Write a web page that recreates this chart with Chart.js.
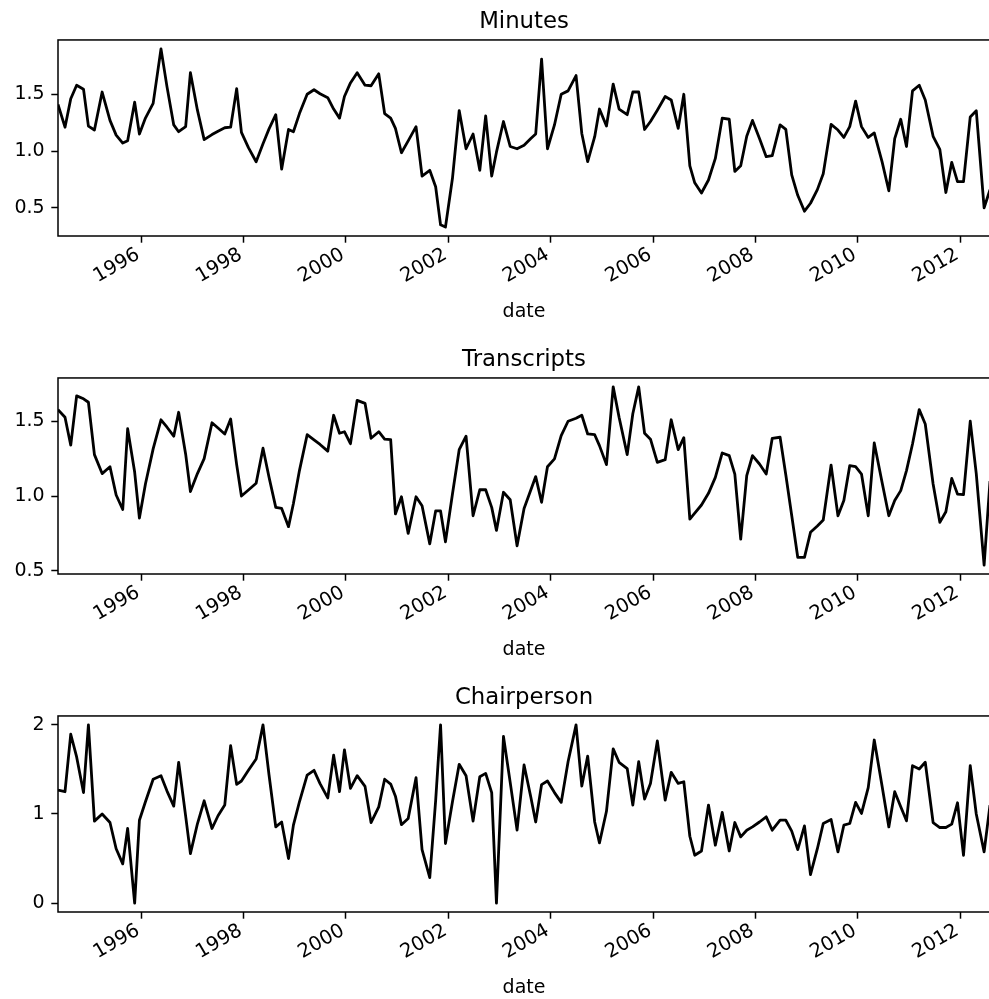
<!DOCTYPE html>
<html>
<head>
<meta charset="utf-8">
<script src="https://cdn.jsdelivr.net/npm/chart.js@4.4.1/dist/chart.umd.min.js"></script>
<style>
  html, body { margin: 0; padding: 0; overflow: hidden; background: #fff; }
  canvas { position: absolute; left: 0; }
</style>
</head>
<body>
<canvas id="minutes" width="1000" height="323" style="top:0px"></canvas>
<canvas id="transcripts" width="1000" height="323" style="top:338px"></canvas>
<canvas id="chair" width="1000" height="323" style="top:676px"></canvas>
<script>
// FOMC meeting dates
const dates = [
  "1994-05-17", "1994-07-06", "1994-08-16", "1994-09-27", "1994-11-15", "1994-12-20",
  "1995-02-01", "1995-03-28", "1995-05-23", "1995-07-06", "1995-08-22", "1995-09-26", "1995-11-15", "1995-12-19",
  "1996-01-31", "1996-03-26", "1996-05-21", "1996-07-03", "1996-08-20", "1996-09-24", "1996-11-13", "1996-12-17",
  "1997-02-05", "1997-03-25", "1997-05-20", "1997-07-02", "1997-08-19", "1997-09-30", "1997-11-12", "1997-12-16",
  "1998-02-04", "1998-03-31", "1998-05-19", "1998-07-01", "1998-08-18", "1998-09-29", "1998-11-17", "1998-12-22",
  "1999-02-03", "1999-03-30", "1999-05-18", "1999-06-30", "1999-08-24", "1999-10-05", "1999-11-16", "1999-12-21",
  "2000-02-02", "2000-03-21", "2000-05-16", "2000-06-28", "2000-08-22", "2000-10-03", "2000-11-15", "2000-12-19",
  "2001-01-31", "2001-03-20", "2001-05-15", "2001-06-27", "2001-08-21", "2001-10-02", "2001-11-06", "2001-12-11",
  "2002-01-30", "2002-03-19", "2002-05-07", "2002-06-26", "2002-08-13", "2002-09-24", "2002-11-06", "2002-12-10",
  "2003-01-29", "2003-03-18", "2003-05-06", "2003-06-25", "2003-08-12", "2003-09-16", "2003-10-28", "2003-12-09",
  "2004-01-28", "2004-03-16", "2004-05-04", "2004-06-30", "2004-08-10", "2004-09-21", "2004-11-10", "2004-12-14",
  "2005-02-02", "2005-03-22", "2005-05-03", "2005-06-30", "2005-08-09", "2005-09-20", "2005-11-01", "2005-12-13",
  "2006-01-31", "2006-03-28", "2006-05-10", "2006-06-29", "2006-08-08", "2006-09-20", "2006-10-25", "2006-12-12",
  "2007-01-31", "2007-03-21", "2007-05-09", "2007-06-28", "2007-08-07", "2007-09-18", "2007-10-31", "2007-12-11",
  "2008-01-30", "2008-03-18", "2008-04-30", "2008-06-25", "2008-08-05", "2008-09-16", "2008-10-29", "2008-12-16",
  "2009-01-28", "2009-03-18", "2009-04-29", "2009-06-24", "2009-08-12", "2009-09-23", "2009-11-04", "2009-12-16",
  "2010-01-27", "2010-03-16", "2010-04-28", "2010-06-23", "2010-08-10", "2010-09-21", "2010-11-03", "2010-12-14",
  "2011-01-26", "2011-03-15", "2011-04-27", "2011-06-22", "2011-08-09", "2011-09-21", "2011-11-02", "2011-12-13",
  "2012-01-25", "2012-03-13", "2012-04-25", "2012-06-20", "2012-08-01"
]

const minutes = [
  1.41, 1.21, 1.46, 1.58, 1.545, 1.22,
  1.185, 1.52, 1.27, 1.14, 1.07, 1.09, 1.43, 1.15,
  1.29, 1.42, 1.90, 1.565, 1.23, 1.17, 1.215, 1.69,
  1.36, 1.10, 1.145, 1.175, 1.205, 1.21, 1.55, 1.165,
  1.03, 0.906, 1.065, 1.195, 1.32, 0.84, 1.19, 1.17,
  1.33, 1.50, 1.54, 1.505, 1.47, 1.37, 1.29, 1.48,
  1.60, 1.69, 1.58, 1.575, 1.68, 1.33, 1.29, 1.20,
  0.985, 1.09, 1.215, 0.78, 0.83, 0.685, 0.35, 0.33,
  0.76, 1.356, 1.02, 1.15, 0.83, 1.31, 0.78, 0.99,
  1.26, 1.04, 1.02, 1.05, 1.11, 1.15, 1.81, 1.02,
  1.23, 1.50, 1.53, 1.665, 1.155, 0.906, 1.126, 1.37,
  1.22, 1.59, 1.37, 1.32, 1.52, 1.52, 1.19, 1.26,
  1.36, 1.48, 1.45, 1.20, 1.50, 0.87, 0.72, 0.63,
  0.745, 0.935, 1.29, 1.28, 0.82, 0.87, 1.13, 1.27,
  1.11, 0.95, 0.96, 1.23, 1.19, 0.79, 0.61, 0.47,
  0.54, 0.66, 0.80, 1.235, 1.185, 1.12, 1.215, 1.44,
  1.215, 1.12, 1.16, 0.905, 0.65, 1.11, 1.28, 1.04,
  1.53, 1.58, 1.45, 1.13, 1.015, 0.635, 0.90, 0.73,
  0.73, 1.30, 1.355, 0.50, 0.66
]

const transcripts = [
  1.578, 1.527, 1.34, 1.67, 1.65, 1.627,
  1.277, 1.15, 1.196, 1.007, 0.91, 1.45, 1.16, 0.853,
  1.08, 1.315, 1.51, 1.46, 1.40, 1.56, 1.28, 1.03,
  1.15, 1.25, 1.49, 1.455, 1.415, 1.515, 1.21, 1.0,
  1.04, 1.085, 1.32, 1.125, 0.924, 0.917, 0.795, 0.95,
  1.17, 1.41, 1.375, 1.345, 1.30, 1.54, 1.42, 1.43,
  1.35, 1.64, 1.62, 1.386, 1.43, 1.38, 1.377, 0.88,
  0.995, 0.75, 0.995, 0.935, 0.68, 0.90, 0.90, 0.694,
  1.013, 1.31, 1.40, 0.868, 1.042, 1.042, 0.924, 0.77,
  1.025, 0.975, 0.667, 0.917, 1.04, 1.13, 0.958, 1.196,
  1.248, 1.404, 1.50, 1.52, 1.54, 1.415, 1.41, 1.337,
  1.21, 1.73, 1.527, 1.277, 1.55, 1.73, 1.42, 1.38,
  1.225, 1.243, 1.51, 1.31, 1.39, 0.846, 0.886, 0.94,
  1.018, 1.125, 1.288, 1.27, 1.147, 0.712, 1.136, 1.27,
  1.214, 1.147, 1.386, 1.393, 1.14, 0.87, 0.59, 0.59,
  0.757, 0.80, 0.84, 1.207, 0.868, 0.97, 1.203, 1.196,
  1.147, 0.868, 1.355, 1.09, 0.868, 0.97, 1.036, 1.17,
  1.348, 1.578, 1.482, 1.08, 0.824, 0.895, 1.118, 1.013,
  1.009, 1.50, 1.15, 0.538, 1.10
]

const chairperson = [
  1.268, 1.25, 1.895, 1.64, 1.24, 2.0,
  0.92, 1.0, 0.904, 0.61, 0.44, 0.837, 0.0, 0.93,
  1.137, 1.39, 1.43, 1.257, 1.088, 1.58, 0.976, 0.555,
  0.89, 1.148, 0.837, 0.98, 1.10, 1.767, 1.332, 1.37,
  1.49, 1.617, 2.0, 1.437, 0.855, 0.91, 0.50, 0.875,
  1.137, 1.437, 1.49, 1.34, 1.18, 1.66, 1.25, 1.72,
  1.287, 1.43, 1.31, 0.904, 1.08, 1.39, 1.336, 1.20,
  0.88, 0.95, 1.407, 0.60, 0.285, 1.15, 2.0, 0.668,
  1.137, 1.557, 1.43, 0.92, 1.418, 1.456, 1.24, 0.0,
  1.87, 1.355, 0.82, 1.55, 1.19, 0.91, 1.33, 1.37,
  1.24, 1.13, 1.587, 2.0, 1.313, 1.65, 0.91, 0.675,
  1.03, 1.73, 1.58, 1.51, 1.10, 1.587, 1.167, 1.343,
  1.82, 1.156, 1.467, 1.343, 1.362, 0.75, 0.537, 0.585,
  1.10, 0.65, 1.017, 0.585, 0.904, 0.743, 0.818, 0.855,
  0.91, 0.968, 0.818, 0.93, 0.93, 0.807, 0.60, 0.867,
  0.32, 0.61, 0.893, 0.938, 0.574, 0.874, 0.893, 1.13,
  1.006, 1.295, 1.83, 1.31, 0.855, 1.25, 1.08, 0.923,
  1.542, 1.505, 1.58, 0.904, 0.848, 0.848, 0.886, 1.126,
  0.537, 1.542, 1.0, 0.574, 1.10
]

const tickYears = [1996, 1998, 2000, 2002, 2004, 2006, 2008, 2010, 2012]
const minutesTicks = [0.5, 1.0, 1.5]
const transcriptsTicks = [0.5, 1.0, 1.5]
const chairTicks = [0, 1, 2]

const DAY = 86400000
const toDay = s => Date.parse(s + "T00:00:00Z") / DAY
const xs = dates.map(toDay)

Chart.defaults.font.family = "DejaVu Sans"
Chart.defaults.color = "#000"

// box around the plot area, like matplotlib spines
const frame = {
  id: "frame",
  afterDatasetsDraw(chart) {
    const { ctx, chartArea: a } = chart
    ctx.save()
    ctx.strokeStyle = "#000"
    ctx.lineWidth = 1.5
    ctx.strokeRect(a.left, a.top, a.right - a.left, a.bottom - a.top)
    ctx.restore()
  }
}

function panel(id, title, values, yTicks, digits) {
  const lo = Math.min(...values), hi = Math.max(...values)
  const pad = (hi - lo) * 0.05

  new Chart(document.getElementById(id), {
    type: "line",
    data: {
      datasets: [{
        data: xs.map((x, i) => ({ x, y: values[i] })),
        borderColor: "#000",
        borderWidth: 2.8,
        borderJoinStyle: "round",
        pointRadius: 0,
        tension: 0
      }]
    },
    options: {
      responsive: false,
      animation: false,
      layout: { autoPadding: false, padding: { left: 0, right: 10, top: 0, bottom: 0 } },
      plugins: {
        legend: { display: false },
        tooltip: { enabled: false },
        title: {
          display: true, text: title, fullSize: false, color: "#000",
          font: { size: 22.8, weight: "normal" },
          padding: { top: 7.9, bottom: 4.7 }
        }
      },
      scales: {
        x: {
          type: "linear", bounds: "data",
          min: xs[0], max: xs[xs.length - 1],
          afterBuildTicks: s => { s.ticks = tickYears.map(y => ({ value: Date.UTC(y, 0, 1) / DAY })) },
          afterFit: s => { s.height = 87 },
          ticks: {
            autoSkip: false, minRotation: 30, maxRotation: 30,
            padding: 0.5, labelOffset: -3,
            font: { size: 19.5 },
            callback: v => String(new Date(v * DAY).getUTCFullYear())
          },
          grid: { drawOnChartArea: false, tickLength: 6.7, tickWidth: 1.5, tickColor: "#000", color: "#000" },
          border: { display: false },
          title: { display: true, text: "date", font: { size: 19 }, padding: { top: 0, bottom: 0 } }
        },
        y: {
          type: "linear", bounds: "data",
          min: lo - pad, max: hi + pad,
          afterBuildTicks: s => { s.ticks = yTicks.map(v => ({ value: v })) },
          afterFit: s => { s.width = 58 },
          ticks: { padding: 6.7, font: { size: 19 }, callback: v => v.toFixed(digits) },
          grid: { drawOnChartArea: false, tickLength: 6.7, tickWidth: 1.5, tickColor: "#000", color: "#000" },
          border: { display: false }
        }
      }
    },
    plugins: [frame]
  })
}

panel("minutes", "Minutes", minutes, minutesTicks, 1)
panel("transcripts", "Transcripts", transcripts, transcriptsTicks, 1)
panel("chair", "Chairperson", chairperson, chairTicks, 0)
</script>
</body>
</html>
